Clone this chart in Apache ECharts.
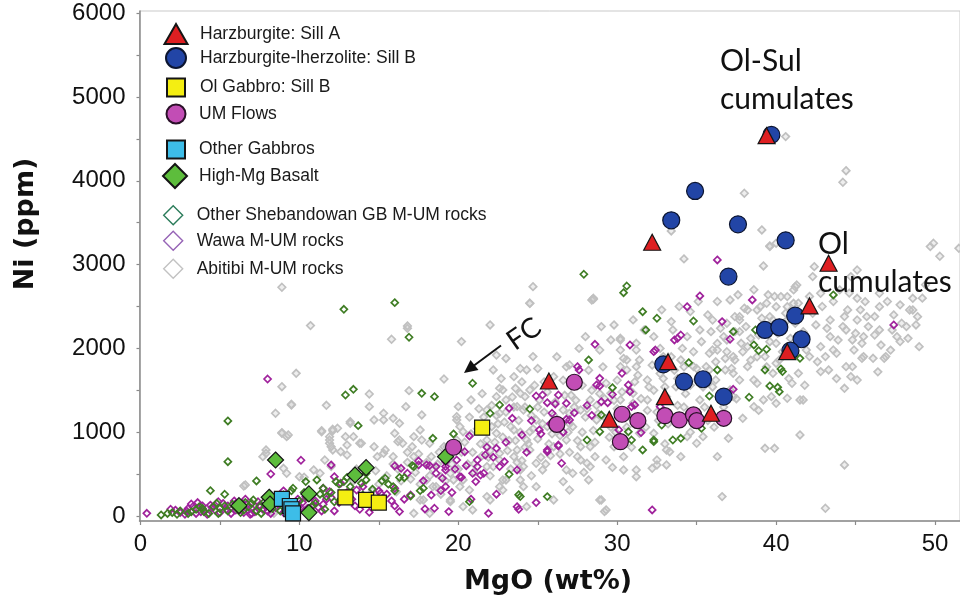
<!DOCTYPE html>
<html><head><meta charset="utf-8">
<script src="https://cdn.jsdelivr.net/npm/echarts@6/dist/echarts.min.js"></script>
<style>html,body{margin:0;padding:0;background:#fff}#c{width:960px;height:599px}</style>
</head><body><div id="c"></div>
<script>
// ---- axis ticks ----
const xTickValues = [0,5,10,15,20,25,30,35,40,45,50];
const xLabelValues = [0,10,20,30,40,50];
const yTickValues = [0,500,1000,1500,2000,2500,3000,3500,4000,4500,5000,5500,6000];
const yLabelValues = [0,1000,2000,3000,4000,5000,6000];
const xTitle = 'MgO (wt%)';
const yTitle = 'Ni (ppm)';

// ---- series names (legend order) ----
const seriesNames = [
  'Harzburgite: Sill A',
  'Harzburgite-lherzolite: Sill B',
  'Ol Gabbro: Sill B',
  'UM Flows',
  'Other Gabbros',
  'High-Mg Basalt',
  'Other Shebandowan GB M-UM rocks',
  'Wawa M-UM rocks',
  'Abitibi M-UM rocks'
];

// ---- data [MgO wt%, Ni ppm] ----
const sillA = [[25.7,1611],[29.5,1154],[33.0,1424],[33.2,1842],[35.9,1226],[40.7,1961],[42.1,2507],[43.3,3016],[32.2,3267],[39.4,4539]];
const sillB = [[34.9,3879],[33.4,3529],[37.6,3481],[40.6,3290],[37.0,2857],[39.7,4548],[39.3,2220],[40.2,2252],[41.2,2391],[41.6,2109],[40.9,1973],[32.9,1810],[34.2,1603],[35.4,1632],[36.7,1424]];
const olGabbro = [[12.9,223],[14.2,191],[15.0,159],[21.5,1054]];
const umFlows = [[19.7,820],[27.3,1596],[26.2,1094],[30.3,1214],[31.3,1138],[30.2,887],[33.0,1197],[33.9,1146],[34.8,1206],[35.0,1138],[36.7,1166]];
const otherGabbros = [[8.9,203],[9.4,119],[9.5,80],[9.6,32]];
const highMgBasalt = [[8.5,668],[6.2,123],[8.1,223],[8.15,143],[10.6,263],[10.6,40],[13.5,489],[14.2,577],[19.2,708]];
const shebandowan = [[12.8,2467],[16.0,2546],[16.9,2133],[5.5,1134],[5.5,648],[13.4,1512],[12.9,1444],[13.7,1078],[17.7,1464],[18.5,1424],[20.9,1584],[19.7,979],[18.4,927],[20.7,171],[7.3,418],[5.3,259],[4.4,302],[1.3,12],[17.2,589],[17.0,239],[17.6,302],[15.4,450],[16.6,457],[10.4,410],[11.1,430],[9.6,331],[11.7,231],[12.3,410],[14.2,430],[3.7,111],[4.8,151],[7.1,191],
[2.0,40],[2.5,60],[3.0,30],[3.5,80],[4.0,50],[5.0,90],[5.5,60],[6.0,100],[6.5,70],[7.0,150],[7.5,110],[8.0,200],[8.5,170],[9.0,250],[9.5,300],[10.0,180],[10.5,220],[11.0,150],[11.5,330],[12.0,280],[12.5,380],[13.2,350],[14.0,250],[14.6,320],[15.2,420],[16.0,300],
[22.6,1325],[22.0,1226],[24.5,1277],[23.2,498],[23.8,254],[17.1,601],[17.8,331],[15.9,350],[12.8,410],[14.2,510],
[27.9,2885],[30.6,2745],[30.4,2665],[31.6,2438],[32.5,2360],[31.8,2220],[28.2,1862],[29.7,1531],[34.8,2327],[34.5,1830],[35.8,1432],[29.0,1206],[28.1,907],[28.9,1006],[30.7,1006],[31.6,788],[32.3,907],[33.5,907],[34.0,927],[35.3,1047],[25.6,231],[23.9,231],
[36.3,1743],[37.3,2200],[38.3,1417],[38.6,2041],[38.9,1973],[39.4,1990],[39.3,1743],[39.6,1552],[40.1,1536],[40.2,1484],[40.3,1755],[40.4,1723],[41.5,1882],[41.8,2101],[38.7,2220],[43.6,2638],[30.9,907],[32.3,887],[32.8,1086],
[1.7,30],[2.3,20],[3.2,50],[4.3,30],[4.6,110],[5.8,140],[6.3,40],[6.8,110],[7.3,60],[7.8,170],[8.3,90],[9.3,160],[10.8,120],[11.3,260],[12.2,170],[13.0,460],[13.9,390],[15.6,380],[16.3,460],
[3.9,90],[4.9,30],[5.3,120],[6.6,160],[7.6,30],[8.8,60],[9.8,120],[10.3,280],[11.6,80],[12.6,200]];
const wawa = [[8.0,1635],[10.1,665],[8.2,501],[12.0,609],[16.0,597],[16.4,569],[16.8,510],[17.5,656],[18.2,601],[18.6,589],[16.0,331],[18.9,302],[19.4,52],[17.9,84],[18.5,92],[16.3,52],[14.4,44],[15.1,271],[12.2,469],[20.7,955],[20.2,462],[21.2,589],[19.2,589],[0.4,32],[1.9,80],[3.2,143],
[2.5,40],[3.0,90],[3.5,30],[4.0,60],[4.5,100],[5.0,40],[5.5,120],[6.0,70],[6.5,40],[7.0,90],[7.5,130],[8.0,60],[8.5,100],[9.0,40],[9.5,150],[10.0,120],[10.5,90],[11.0,180],[11.5,140],[12.0,220],[12.5,160],[13.0,280],[13.5,120],[14.0,350],[14.5,200],[15.0,300],[15.5,260],[16.0,120],[9.0,300],[11.5,330],[12.6,390],[10.8,260],
[23.2,1286],[23.4,1166],[24.0,967],[22.4,808],[21.7,728],[21.2,668],[20.9,510],[21.6,510],[21.1,410],[22.9,648],[23.7,549],[17.5,609],[18.6,510],[19.2,549],[19.2,350],[23.7,111],[21.9,32],
[24.9,1432],[25.3,1444],[25.6,1352],[26.1,1337],[26.3,1444],[24.6,1138],[25.1,1027],[20.4,767],[19.9,668],[19.2,648],[18.0,609],[21.4,489],[20.1,469],[26.3,836],[25.6,767],[26.8,1154],[26.5,629],[23.8,80],
[35.2,2626],[34.4,2498],[33.8,2121],[34.0,2160],[32.4,1981],[30.8,2041],[28.6,2049],[27.5,1782],[27.6,1743],[30.3,1703],[30.7,1564],[28.9,1643],[28.7,1564],[28.9,1552],[26.8,1345],[29.0,1364],[29.4,1352],[30.9,1305],[31.1,1325],[27.0,1146],[25.9,1226],[30.1,1027],[31.5,995],[32.7,1305],[25.6,788],[26.3,847],[32.2,72],[36.3,3056],
[38.5,2578],[36.6,2320],[37.1,2109],[47.4,2280],[37.3,1512],[33.6,2101],[32.3,1961],[30.8,1484],
[2.2,70],[2.8,20],[3.3,110],[3.8,50],[4.2,20],[4.7,70],[5.2,150],[5.7,30],[6.2,90],[6.7,140],[7.2,50],[7.7,80],[8.2,30],[8.7,130],[9.2,80],[9.7,60],[10.2,160],[10.7,40],[11.2,100],[11.7,200],[12.2,60],[12.8,240],[13.3,200],[13.8,80],[14.3,160],[4.9,170],[6.9,20],[8.9,180],[10.4,230],[11.9,290],[13.6,310],[14.8,120],[15.8,180],[16.6,200],
[17.0,250],[17.8,420],[18.3,250],[19.0,450],[19.8,560],[20.5,600],[21.8,820],[22.2,700],[22.6,590],[23.0,880],[24.3,760],[25.2,980],[25.8,1100],[26.6,1000],[27.3,1230],[28.1,1320],[28.4,1200],[29.7,1450],[19.6,280],[20.8,200],[22.4,260],[24.9,160],
[4.4,130],[5.4,80],[5.9,180],[6.4,120],[6.6,200],[7.4,170],[7.9,110],[8.4,150],[8.6,230],[9.4,110],[9.9,200],[10.3,60],[10.9,130],[11.4,60],[3.9,120],[3.6,160],[2.9,60],[6.0,150],[7.0,30],[8.0,140]];
const abitibi = [[8.9,2730],[10.7,2272],[9.8,1703],[8.9,1543],[15.8,2109],[16.8,2240],[20.2,2081],[19.1,1635],[16.9,1496],[14.4,1456],[9.5,1325],[8.5,1226],[11.7,1321],[14.4,1305],[15.3,1226],[16.7,1305],[13.2,1126],[12.1,1018],[11.4,1018],[8.9,987],[9.2,947],[11.9,947],[11.9,868],[13.0,847],[13.4,947],[13.8,868],[12.6,767],[14.7,1146],[15.3,1146],[15.9,1166],[16.3,1106],[16.0,987],[16.3,907],[17.1,827],[17.6,1027],[17.7,907],[18.3,708],[19.3,827],[19.9,1185],[20.0,1305],[19.9,907],[20.1,1066],[6.6,370],[7.7,708],[7.9,788],[9.0,569],[9.2,510],[10.0,469],[10.9,549],[11.3,510],[8.4,32],[8.6,191],[17.2,32],[17.6,191],
[44.4,4121],[44.2,3983],[38.0,3852],[39.1,3414],[39.6,3215],[39.2,2984],[42.4,2976],[41.3,2757],[40.7,2618],[40.0,2498],[41.1,2538],[49.7,3215],[49.9,3255],[51.5,3195],
[45.1,2598],[45.6,2558],[44.5,2459],[45.1,2339],[45.7,2379],[46.5,2498],[47.3,2220],[47.9,2300],[47.8,2081],[48.6,2459],[48.9,2379],[49.0,2021],[46.2,2160],[46.1,1882],[46.9,1902],[45.4,2061],[44.8,2101],[44.2,2260],[43.4,2140],[43.1,1902],[43.8,1942],[42.8,1723],[43.3,1743],[44.8,1782],[45.1,1623],[44.7,1663],[44.3,1524],[45.4,1882],[42.1,1902],[41.4,1703],[41.0,1584],[40.7,1405],[41.7,1385],[40.0,1345],[41.5,967],[39.3,808],[39.9,808],[44.3,609],[36.6,231],[43.1,92],[37.0,927],[37.9,1166],
[37.1,2578],[37.4,2379],[38.2,2459],[39.0,2498],[39.6,2379],[40.5,2300],[36.7,2140],[37.8,2061],[36.3,1981],[37.4,1862],[38.2,1782],[36.8,1743],[36.2,1623],[37.7,1623],[38.8,1584],[37.1,1504],[39.7,1424],[38.6,1305],[40.0,1823],[40.9,1981],[39.3,1902],[40.0,2061],
[22.0,2280],[24.5,2539],[28.4,2578],[22.2,1743],[22.6,1524],[23.5,1663],[23.9,1464],[23.0,1385],[24.5,1504],[25.1,1385],[24.1,1265],[24.9,1146],[22.6,1226],[22.1,1066],[23.5,1027],[24.5,1006],[25.6,1066],[26.6,1265],[27.7,1265],[28.3,1385],[28.7,1146],[27.2,1066],[26.8,907],[27.7,827],[26.0,827],[24.5,788],[23.5,708],[22.6,748],[21.8,827],[22.2,589],[23.0,430],[24.1,589],[25.3,549],[26.8,549],[27.7,668],[28.6,708],[29.3,668],[29.8,827],[30.4,708],[31.2,549],[32.5,668],[33.1,788],[34.0,708],[35.0,868],[32.3,987],[31.4,987],[31.9,1385],[31.0,1464],[30.2,1385],[29.3,1584],[30.2,1782],[31.2,1782],[28.9,1981],[30.2,2101],[31.2,2061],[32.3,2140],[33.5,2220],[34.4,2140],[35.2,2220],[36.0,1981],[36.9,2101],[35.6,1782],[36.0,2339],[37.7,2339],[37.3,1703],[38.6,1623],[39.2,1385],[39.8,1703],[40.2,1862],[40.7,2339],[42.3,2419],[43.4,2339],[44.4,2220],[42.8,2021],[43.6,1981],[44.9,1981],[45.5,2140],[46.5,2220],[47.6,2140],[48.4,2459],[44.4,1782],[45.5,1902],[46.8,1882],[48.2,2260],[41.5,1385],[32.5,609],[33.3,767],[31.2,469],[30.4,549],[28.9,191],[29.2,52],[26.6,410],[24.9,350],[23.9,549],[22.0,191],[22.6,350],
[40.6,4528],[39.6,3223],[40.0,3255],[34.2,3068],[33.4,3402],[42.3,2857],[45.1,2936],[44.7,2857],[41.2,2737],[42.8,2658],[44.0,2698],[24.7,2737],[28.5,2598],[46.5,2658],[48.6,2598],
[16.8,2268],[17.7,1206],[13.2,1106],[12.4,1047],[12.9,947],[13.9,868],[12.1,788],[13.0,728],[14.7,827],[15.3,748],[16.5,868],[17.2,708],[18.2,868],[19.1,827],[19.6,767],[19.9,1146],[20.3,1006],[20.8,1385],[21.8,1265],[22.4,1424],[22.8,1504],[23.6,1524],[24.2,1424],[23.7,1305],[21.8,589],[22.6,668],[23.7,788],[24.3,907],[23.3,1066],[22.4,987],[21.8,907],[22.8,430],[24.1,350],[20.3,430],[19.5,510],[18.6,350],[17.8,191],[19.5,191],[20.3,111],[18.2,32],
[9.5,1333],[8.9,995],[9.3,967],[11.4,1006],[12.1,1035],[11.9,907],[12.0,827],[7.9,748],[11.6,668],[12.0,589],[6.5,358],[10.3,462],
[28.5,2586],[24.5,2538],[29.6,2101],[30.2,1981],[30.6,1862],[31.2,1981],[30.2,2121],[24.7,1902],[24.3,1743],[27.0,1803],[26.0,1663],[32.2,569],[33.1,609],[29.0,191],[29.3,72],[34.4,947],[35.4,947],[36.3,708],[28.3,589],[27.5,708],
[27.0,1226],[28.1,629],[27.2,510],[24.9,629],[23.9,430],[22.8,310],[21.8,231],[20.7,310],[19.7,430],[18.9,469],[18.0,430],[24.3,111],[26.0,191],[27.0,310],[28.2,430],[28.3,827],
[15.4,788],[16.2,887],[17.2,947],[15.9,708],[14.9,708],[18.4,350],[20.1,350],[19.5,171],[20.9,72],
[31.4,1862],[30.6,1743],[31.9,1623],[34.0,1862],[34.8,1782],[35.8,1942],[35.8,1743],[37.3,1902],[38.2,2021],[36.9,2300],[37.7,2379],[38.8,2459],[39.4,2539],[40.3,2618],[41.1,2698],[40.7,2498],[39.8,2339],[33.1,1424],[35.2,1385],[29.6,1464],[31.0,1345],[32.9,1902],[33.7,1543],[37.3,1424],
[14.2,620],[14.8,540],[15.5,480],[15.9,620],[16.4,420],[16.8,760],[17.3,520],[17.6,380],[18.0,640],[18.4,560],[18.8,760],[19.2,420],[19.6,620],[15.0,380],[16.1,290],[18.9,260],[17.0,440],[14.6,300],[13.6,560],[13.4,420],
[20.4,880],[20.6,620],[20.9,760],[21.2,1040],[21.4,860],[21.6,1180],[21.9,700],[22.1,1320],[22.3,880],[22.5,1100],[22.8,940],[23.0,1240],[23.1,780],[23.4,1420],[23.6,900],[23.8,1140],[24.0,660],[24.2,1300],[24.4,860],[24.7,1040],[24.8,1560],[25.0,920],[25.2,700],[20.7,1180],[21.0,520],[22.0,480],[23.3,560],[24.6,480],[22.7,1640],[23.9,1760],[21.5,1460],[20.2,760],
[25.4,1240],[25.6,1480],[25.9,980],[26.1,1360],[26.3,1120],[26.6,1620],[26.9,1000],[27.1,1440],[27.3,1300],[27.5,900],[27.8,1560],[28.0,1180],[28.2,1740],[28.5,1020],[28.7,1320],[28.9,1460],[29.1,1780],[29.3,1160],[29.5,940],[29.8,1380],[30.0,1620],[30.2,1240],[30.4,1880],[30.6,1060],[30.8,1500],[25.5,620],[26.4,740],[27.9,520],[29.7,580],[30.9,820],[26.2,1900],[27.6,2000],[29.0,2260],[25.0,1760],
[31.3,1680],[31.5,1180],[31.7,2220],[32.0,1540],[32.2,1800],[32.5,1240],[32.7,2000],[32.9,1640],[33.2,1100],[33.4,2320],[33.6,1740],[33.8,1320],[34.1,2000],[34.3,1460],[34.5,1200],[34.8,1960],[35.0,1620],[35.3,2080],[35.5,1300],[35.7,2400],[36.0,1540],[36.2,1840],[36.5,2240],[36.7,1300],[36.9,1960],[31.8,1060],[33.0,860],[34.6,1000],[36.1,1060],[35.1,2560],[33.9,2500],
[37.4,2200],[37.6,2640],[37.9,1960],[38.1,2260],[38.4,1860],[38.6,2700],[38.9,2160],[39.1,2360],[39.4,1780],[39.6,2080],[39.9,2620],[40.1,2180],[40.4,1960],[40.6,2420],[40.9,2120],[41.2,2300],[41.4,2540],[41.7,2200],[41.9,1980],[42.1,2620],[37.5,1400],[38.9,1260],[40.8,1640],[41.8,1560],
[42.5,2280],[42.9,2500],[43.2,2240],[43.6,2560],[43.9,2100],[44.3,2380],[44.6,2660],[45.0,2180],[45.3,2460],[45.8,2260],[46.2,2380],[46.6,2040],[47.0,2560],[47.4,2400],[47.8,2520],[48.3,2120],[48.8,2280],[49.2,2600],[42.6,1840],[43.8,1640],[46.4,1720],[47.2,1980],[49.4,2760],[50.3,3100],
[20.8,980],[21.3,1280],[21.7,1020],[22.0,780],[22.4,1200],[22.9,1120],[23.2,900],[23.5,1300],[23.9,1000],[24.2,820],[24.6,1200],[25.0,1300],[25.3,1100],[25.7,860],[26.0,1200],[26.4,960],[26.7,1440],[27.0,1100],[27.4,1380],[27.8,1000],[28.1,1280],[28.4,1500],[28.8,1220],[29.2,1400],[29.6,1060],[30.0,1280],[30.3,1480],[30.7,1200],[31.1,1600],[31.5,1400],[31.9,1260],[32.3,1500],[32.7,1700],[33.0,1540],[33.4,1900],[33.8,1640],[34.2,1780],[34.6,1560],[35.0,1760],[35.4,1540],[35.9,2200],[36.3,2060],[36.8,1880],[37.2,1760],[37.7,2200],[38.0,2480],[38.4,2120],[38.8,1900],[39.2,2260],[39.5,2640],[20.0,560],[19.4,700],[18.7,620],[18.2,480],[17.5,740],[16.8,640],[16.2,560],[21.0,620],[21.5,720],[23.7,640],[25.8,720],[27.0,760],[28.6,880],[29.9,1000],[31.2,1100],[32.6,1140],[34.2,1300],[35.7,1140],[36.4,1420],[26.8,1780],[25.4,1600],[24.0,1600],[23.0,1880],[22.4,1920],[28.0,2140],[29.8,2280],[31.0,2340],[32.8,2460],[34.6,2440],[36.3,2560]];

// ---- annotations ----
const notes = [
  {lines: ['Ol-Sul', 'cumulates']},
  {lines: ['Ol', 'cumulates']},
  {lines: ['FC']}
];

const chart = echarts.init(document.getElementById('c'), null, {renderer: 'canvas'});
const LAB_FONT = '"Liberation Sans", Arial, sans-serif';
const AX = '#8a8a8a';

function sc(name, data, symbol, size, itemStyle, z) {
  return {type: 'scatter', name, data, symbol, symbolSize: size,
    itemStyle: Object.assign({opacity: 1}, itemStyle), z,
    emphasis: {disabled: true}, animation: false};
}
const blk = '#151515';
const hollow = 'rgba(255,255,255,0)';
const series = [
  sc(seriesNames[8], abitibi, 'diamond', 7.5, {color: 'rgba(200,200,200,0.3)', borderColor: '#c0c0c0', borderWidth: 1.7}, 1),
  sc(seriesNames[7], wawa, 'diamond', 7, {color: hollow, borderColor: '#a0229c', borderWidth: 1.7}, 2),
  sc(seriesNames[6], shebandowan, 'diamond', 7, {color: hollow, borderColor: '#3f7d24', borderWidth: 1.7}, 3),
  sc(seriesNames[5], highMgBasalt, 'diamond', 16, {color: '#5dbd3c', borderColor: blk, borderWidth: 1.2}, 4),
  sc(seriesNames[4], otherGabbros, 'rect', 15, {color: '#3dbde8', borderColor: blk, borderWidth: 1.2}, 5),
  sc(seriesNames[3], umFlows, 'circle', 16, {color: '#c24db5', borderColor: '#2a1028', borderWidth: 1.2}, 6),
  sc(seriesNames[2], olGabbro, 'rect', 15, {color: '#f4ee12', borderColor: blk, borderWidth: 1.2}, 7),
  sc(seriesNames[1], sillB, 'circle', 17, {color: '#2245a6', borderColor: '#0c1530', borderWidth: 1.2}, 8),
  sc(seriesNames[0], sillA, 'triangle', [17, 16], {color: '#de1f22', borderColor: blk, borderWidth: 1.2}, 9)
];

// legend placement: [iconW, iconH, centerX, centerY, textStartX, itemStyle override]
const legendLayout = [
  [23, 20, 175, 33, 199, null],
  [20, 20, 175, 57, 199, null],
  [18, 18, 175, 86.5, 199, null],
  [19, 19, 175, 113, 198, null],
  [18, 18, 175, 148.5, 198, null],
  [24, 24, 174, 175, 198, null],
  [19, 19, 172.5, 214.5, 196, {color: hollow, borderColor: '#2b7c5a', borderWidth: 1.4, opacity: 1}],
  [19, 19, 172.5, 240, 196, {color: hollow, borderColor: '#9664b6', borderWidth: 1.4, opacity: 1}],
  [19, 19, 172.5, 268, 196, {color: hollow, borderColor: '#c2c2c2', borderWidth: 1.4, opacity: 1}]
];
const legends = seriesNames.map((n, i) => {
  const [w, h, cx, cy, tx, st] = legendLayout[i];
  const left = cx - w / 2;
  const pad = tx - (left + w + 5);
  const d = st ? {name: n, itemStyle: st} : {name: n};
  return {
    data: [d], left: left, top: cy - h / 2, padding: 0,
    itemWidth: w, itemHeight: h, selectedMode: false,
    textStyle: {fontFamily: LAB_FONT, fontSize: 17.5, color: '#1a1a1a', padding: [0, 0, 0, pad]}
  };
});

const NOTE_FONT = 'Lato, "Open Sans", sans-serif';
const noteFont = (s) => ({fontFamily: NOTE_FONT, fontSize: s, fill: '#111'});
const plain = (v) => String(Math.round(v));

chart.setOption({
  backgroundColor: '#fff',
  animation: false,
  grid: {left: 139.5, right: 0, top: 11, bottom: 78, show: true, borderColor: '#c9c9c9', borderWidth: 1},
  legend: legends,
  xAxis: {
    type: 'value', min: -0.06, max: 51.57,
    axisLine: {show: true, onZero: false, lineStyle: {color: AX, width: 1.5}},
    axisTick: {show: true, customValues: xTickValues, length: 4, lineStyle: {color: AX, width: 1.2}},
    axisLabel: {customValues: xLabelValues, formatter: plain, fontFamily: LAB_FONT, fontSize: 24, color: '#111', margin: 11, lineHeight: 24},
    splitLine: {show: false}
  },
  yAxis: {
    type: 'value', min: -60, max: 6027,
    axisLine: {show: true, onZero: false, lineStyle: {color: AX, width: 1.5}},
    axisTick: {show: true, customValues: yTickValues, length: 3, lineStyle: {color: AX, width: 1.2}},
    axisLabel: {customValues: yLabelValues, formatter: plain, fontFamily: LAB_FONT, fontSize: 24, color: '#111', margin: 14},
    splitLine: {show: false}
  },
  series: series,
  graphic: [
    {type: 'text', x: 548, y: 582, z: 20,
      style: {text: xTitle, fontFamily: '"DejaVu Sans", sans-serif', fontWeight: 'bold', fontSize: 27, fill: '#111', align: 'center', verticalAlign: 'middle'}},
    {type: 'text', x: 26, y: 224, rotation: Math.PI / 2, z: 20,
      style: {text: yTitle, fontFamily: '"DejaVu Sans", sans-serif', fontWeight: 'bold', fontSize: 27, fill: '#111', align: 'center', verticalAlign: 'middle'}},
    {type: 'text', x: 720, y: 61, z: 20, style: Object.assign(noteFont(30), {text: notes[0].lines[0], align: 'left', verticalAlign: 'middle'})},
    {type: 'text', x: 720, y: 99, z: 20, style: Object.assign(noteFont(30), {text: notes[0].lines[1], align: 'left', verticalAlign: 'middle'})},
    {type: 'text', x: 818, y: 244, z: 20, style: Object.assign(noteFont(30), {text: notes[1].lines[0], align: 'left', verticalAlign: 'middle'})},
    {type: 'text', x: 818, y: 282, z: 20, style: Object.assign(noteFont(30), {text: notes[1].lines[1], align: 'left', verticalAlign: 'middle'})},
    {type: 'text', x: 524, y: 334, rotation: 35 * Math.PI / 180, z: 20, style: Object.assign(noteFont(28), {text: notes[2].lines[0], align: 'center', verticalAlign: 'middle'})},
    {type: 'line', z: 20, shape: {x1: 501, y1: 345.5, x2: 474, y2: 365.5}, style: {stroke: '#111', lineWidth: 2}},
    {type: 'polygon', z: 20, shape: {points: [[464, 373], [478.5, 370], [470.5, 360]]}, style: {fill: '#111'}}
  ]
});
</script>
</body></html>
